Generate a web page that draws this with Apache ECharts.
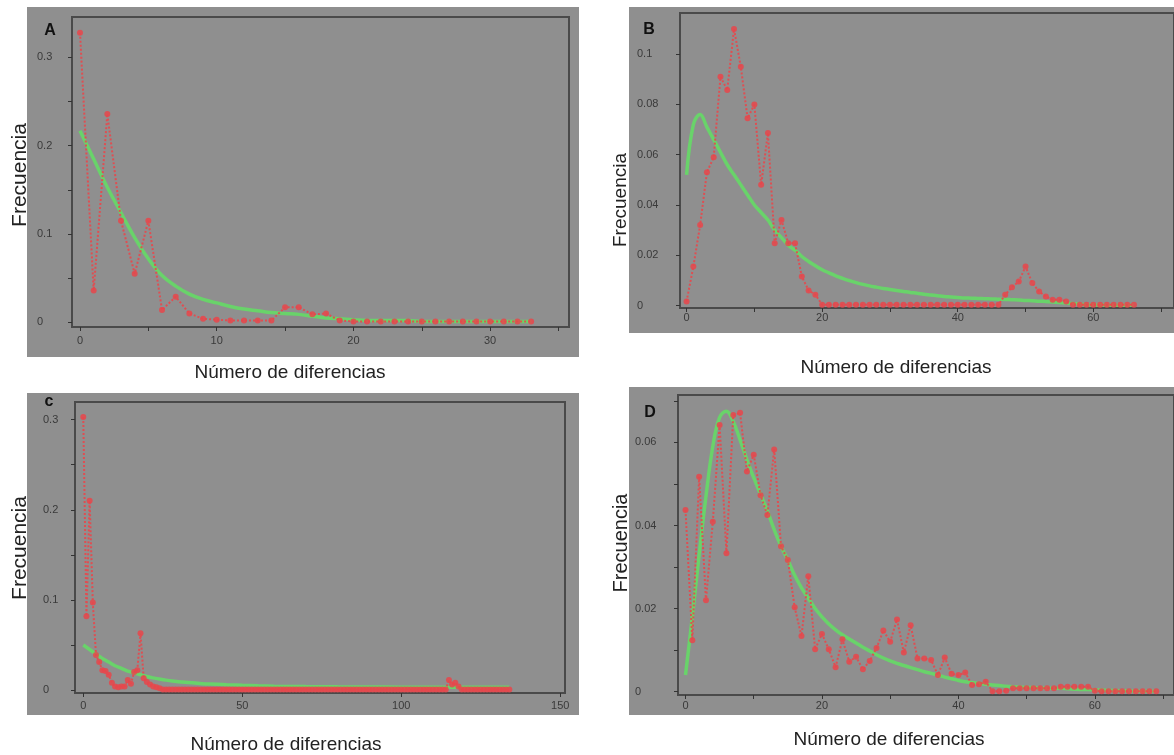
<!DOCTYPE html>
<html><head><meta charset="utf-8">
<script src="https://cdn.jsdelivr.net/npm/echarts@6/dist/echarts.min.js"></script>
<style>html,body{margin:0;padding:0;background:#fff}#c{width:1174px;height:755px}</style>
</head><body><div id="c"></div><script>
// ---------- Panel A ----------
const aX = [0,1,2,3,4,5,6,7,8,9,10,11,12,13,14,15,16,17,18,19,20,21,22,23,24,25,26,27,28,29,30,31,32,33];
const aObserved = [0.328,0.036,0.236,0.115,0.055,0.115,0.014,0.029,0.010,0.004,0.003,0.002,0.002,0.002,0.002,0.017,0.017,0.009,0.010,0.002,
  0.001,0.001,0.001,0.001,0.001,0.001,0.001,0.001,0.001,0.001,0.001,0.001,0.001,0.001];
const aExpected = [0.217,0.185,0.153,0.124,0.096,0.072,0.053,0.041,0.032,0.026,0.022,0.018,0.015,0.013,0.011,0.010,0.009,0.007,0.005,0.004,
  0.003,0.002,0.002,0.002,0.002,0.001,0.001,0.001,0.001,0.001,0.001,0.001,0.001,0.001];
const aXTicks = [0,5,10,15,20,25,30,35];
const aXLabels = [0,10,20,30];
const aYTicks = [0,0.05,0.1,0.15,0.2,0.25,0.3];
const aYLabels = [0,0.1,0.2,0.3];

// ---------- Panel B ----------
const bX = [0,1,2,3,4,5,6,7,8,9,10,11,12,13,14,15,16,17,18,19,20,21,22,23,24,25,26,27,28,29,30,31,32,33,34,35,36,37,38,39,40,41,42,43,44,45,46,47,48,49,50,51,52,53,54,55,56,57,58,59,60,61,62,63,64,65,66];
const bObserved = [0.0016,0.0155,0.032,0.053,0.059,0.091,0.0858,0.110,0.095,0.0745,0.080,0.048,0.0686,0.0248,0.034,0.0248,0.0248,0.0115,0.006,0.0043,
  0.0003,0.0003,0.0003,0.0003,0.0003,0.0003,0.0003,0.0003,0.0003,0.0003,0.0003,0.0003,0.0003,0.0003,0.0003,0.0003,0.0003,0.0003,0.0003,0.0003,0.0003,0.0003,0.0003,0.0003,0.0003,0.0003,0.0003,
  0.0043,0.0073,0.0095,0.0155,0.0089,0.0056,0.0036,0.0023,0.0023,0.0016,
  0.0003,0.0003,0.0003,0.0003,0.0003,0.0003,0.0003,0.0003,0.0003,0.0003];
const bExpected = [0.052,0.072,0.076,0.071,0.066,0.061,0.056,0.052,0.048,0.044,0.040,0.037,0.034,0.030,0.027,0.024,0.022,0.0195,0.0175,0.0158,
  0.0142,0.013,0.0118,0.0108,0.0099,0.0091,0.0084,0.0078,0.0073,0.0068,0.0064,0.006,0.0056,0.0052,0.0049,0.0045,0.0042,0.0039,0.0036,0.0034,
  0.0032,0.0030,0.0029,0.0028,0.0027,0.0026,0.0025,0.0024,0.0023,0.0022,0.0020,0.0019,0.0017,0.0016,0.0014,0.0012,0.0010,0.0008,0.0005,0.0003,
  0.0002,0.0002,0.0001,0.0001,0.0001,0.0001,0.0001];
const bXTicks = [0,10,20,30,40,50,60,70];
const bXLabels = [0,20,40,60];
const bYTicks = [0,0.02,0.04,0.06,0.08,0.1];
const bYLabels = [0,0.02,0.04,0.06,0.08,0.1];

// ---------- Panel C ----------
const cX = [0,1,2,3,4,5,6,7,8,9,10,11,12,13,14,15,16,17,18,19,20,21,22,23,24,25,26,27,28,29,30,31,32,33,34,35,36,37,38,39,40,41,42,43,44,45,46,47,48,49,
  50,51,52,53,54,55,56,57,58,59,60,61,62,63,64,65,66,67,68,69,70,71,72,73,74,75,76,77,78,79,80,81,82,83,84,85,86,87,88,89,90,91,92,93,94,95,96,97,98,99,
  100,101,102,103,104,105,106,107,108,109,110,111,112,113,114,115,116,117,118,119,120,121,122,123,124,125,126,127,128,129,130,131,132,133,134];
const cObserved = [0.303,0.082,0.21,0.097,0.039,0.031,0.022,0.021,0.017,0.008,0.004,0.003,0.004,0.004,0.011,0.007,0.020,0.022,0.063,0.013,0.009,0.006,0.004,0.003,0.002,
  0.0005,0.0005,0.0005,0.0005,0.0005,0.0005,0.0005,0.0005,0.0005,0.0005,0.0005,0.0005,0.0005,0.0005,0.0005,0.0005,0.0005,0.0005,0.0005,0.0005,0.0005,0.0005,0.0005,0.0005,0.0005,
  0.0005,0.0005,0.0005,0.0005,0.0005,0.0005,0.0005,0.0005,0.0005,0.0005,0.0005,0.0005,0.0005,0.0005,0.0005,0.0005,0.0005,0.0005,0.0005,0.0005,0.0005,0.0005,0.0005,0.0005,0.0005,
  0.0005,0.0005,0.0005,0.0005,0.0005,0.0005,0.0005,0.0005,0.0005,0.0005,0.0005,0.0005,0.0005,0.0005,0.0005,0.0005,0.0005,0.0005,0.0005,0.0005,0.0005,0.0005,0.0005,0.0005,0.0005,
  0.0005,0.0005,0.0005,0.0005,0.0005,0.0005,0.0005,0.0005,0.0005,0.0005,0.0005,0.0005,0.0005,0.0005,0.0005,
  0.011,0.006,0.008,0.004,
  0.0005,0.0005,0.0005,0.0005,0.0005,0.0005,0.0005,0.0005,0.0005,0.0005,0.0005,0.0005,0.0005,0.0005,0.0005,0.0005];
const cExpX = [0,2,4,6,8,10,12,14,16,18,20,22,24,26,28,30,33,36,40,45,50,55,60,70,80,90,100,110,120,134];
const cExpected = [0.050,0.045,0.040,0.035,0.031,0.027,0.024,0.021,0.019,0.017,0.015,0.0135,0.0122,0.011,0.010,0.0093,0.0083,0.0075,0.0066,0.0058,0.0052,0.0047,0.0043,0.0038,0.0035,0.0033,0.0032,0.0031,0.0030,0.0030];
const cXTicks = [0,50,100,150];
const cXLabels = [0,50,100,150];
const cYTicks = [0,0.05,0.1,0.15,0.2,0.25,0.3];
const cYLabels = [0,0.1,0.2,0.3];

// ---------- Panel D ----------
const dX = [0,1,2,3,4,5,6,7,8,9,10,11,12,13,14,15,16,17,18,19,20,21,22,23,24,25,26,27,28,29,30,31,32,33,34,35,36,37,38,39,40,41,42,43,44,45,46,47,48,49,50,51,52,53,54,55,56,57,58,59,60,61,62,63,64,65,66,67,68,69];
const dObserved = [0.0437,0.0124,0.0517,0.022,0.0409,0.0642,0.0333,0.0666,0.0671,0.053,0.057,0.0473,0.0425,0.0583,0.035,0.0317,0.0203,0.0134,0.0278,0.0102,
  0.0139,0.0102,0.0059,0.0126,0.0072,0.0084,0.0054,0.0074,0.0105,0.0147,0.012,0.0174,0.0094,0.016,0.008,0.008,0.0076,0.004,0.0082,0.0043,
  0.004,0.0046,0.0016,0.0018,0.0024,0.0001,0.0001,0.0002,0.0008,0.0008,0.0008,0.0008,0.0008,0.0008,0.0008,0.0012,0.0012,0.0012,0.0012,0.0012,
  0.0002,0.0001,0.0001,0.0001,0.0001,0.0001,0.0001,0.0001,0.0001,0.0001];
const dExpected = [0.004,0.018,0.033,0.047,0.059,0.066,0.0675,0.065,0.0606,0.0558,0.0515,0.0475,0.0435,0.039,0.035,0.0317,0.028,0.025,0.0225,0.020,
  0.018,0.0163,0.0149,0.0137,0.0127,0.0117,0.0107,0.0098,0.0089,0.0081,0.0074,0.0068,0.0063,0.0058,0.0053,0.0048,0.0044,0.004,0.0035,0.0031,
  0.0027,0.0024,0.0022,0.002,0.0018,0.0016,0.0015,0.0013,0.0012,0.0011,0.001,0.001,0.0009,0.0009,0.0008,0.0008,0.0007,0.0006,0.0005,0.0005,
  0.0004,0.0004,0.0003,0.0003,0.0002,0.0002,0.0001,0.0001,0.0001,0.0001];
const dXTicks = [0,10,20,30,40,50,60,70];
const dXLabels = [0,20,40,60];
const dYTicks = [0,0.01,0.02,0.03,0.04,0.05,0.06,0.07];
const dYLabels = [0,0.02,0.04,0.06];

const yTitle = 'Frecuencia';
const xTitle = 'Número de diferencias';
const panelLetters = ['A','B','c','D'];

// ---------- build ----------
const zip = (xs, ys) => xs.map((x, i) => [x, ys[i]]);
const GRAY = '#8f8f8f';
const FRAME = '#4a4a4a';
const RED = '#e8474b';
const GREEN = '#69d36a';
const FONT = '"Liberation Sans", Arial, sans-serif';

const panels = [
  {grid:{left:72, top:17, width:497, height:310}, xr:[-0.585,35.77], yr:[-0.0053,0.3458],
   xt:aXTicks, xl:aXLabels, yt:aYTicks, yl:aYLabels, ym:35, xm:8,
   obs:zip(aX,aObserved), exp:zip(aX,aExpected)},
  {grid:{left:680, top:13, width:504, height:295}, xr:[-0.97,71.9], yr:[-0.001,0.1164],
   xt:bXTicks, xl:bXLabels, yt:bYTicks, yl:bYLabels, ym:43, xm:4,
   obs:zip(bX,bObserved), exp:zip(bX,bExpected)},
  {grid:{left:75, top:402, width:490, height:291}, xr:[-2.6,151.5], yr:[-0.0033,0.3196],
   xt:cXTicks, xl:cXLabels, yt:cYTicks, yl:cYLabels, ym:32, xm:7,
   obs:zip(cX,cObserved), exp:zip(cExpX,cExpected)},
  {grid:{left:678, top:395, width:506, height:300}, xr:[-1.1,71.6], yr:[-0.0008,0.0714],
   xt:dXTicks, xl:dXLabels, yt:dYTicks, yl:dYLabels, ym:43, xm:5,
   obs:zip(dX,dObserved), exp:zip(dX,dExpected)}
];

const option = {
  animation:false,
  backgroundColor:'#ffffff',
  grid:[], xAxis:[], yAxis:[], series:[],
  graphic:[]
};
const labelStyle = {color:'#3a3a3a', fontSize:11, fontFamily:FONT};
panels.forEach((p, i) => {
  option.grid.push(Object.assign({show:true, backgroundColor:GRAY, borderColor:FRAME, borderWidth:2, containLabel:false}, p.grid));
  option.xAxis.push({type:'value', gridIndex:i, min:p.xr[0], max:p.xr[1],
    splitLine:{show:false},
    axisLine:{show:true, onZero:false, lineStyle:{color:FRAME, width:2}},
    axisTick:{show:true, customValues:p.xt, length:4, lineStyle:{color:'#333', width:1}},
    axisLabel:Object.assign({customValues:p.xl, margin:p.xm}, labelStyle)});
  option.yAxis.push({type:'value', gridIndex:i, min:p.yr[0], max:p.yr[1],
    splitLine:{show:false},
    axisLine:{show:true, onZero:false, lineStyle:{color:FRAME, width:2}},
    axisTick:{show:true, customValues:p.yt, length:4, lineStyle:{color:'#333', width:1}},
    axisLabel:Object.assign({customValues:p.yl, margin:p.ym, align:'left'}, labelStyle)});
  option.series.push({type:'line', xAxisIndex:i, yAxisIndex:i, data:p.exp, smooth:0.4,
    showSymbol:false, symbol:'none', z:2,
    lineStyle:{color:GREEN, width:3.5}});
  option.series.push({type:'line', xAxisIndex:i, yAxisIndex:i, data:p.obs, z:3,
    symbol:'circle', symbolSize:6, showSymbol:true,
    itemStyle:{color:RED, opacity:0.85},
    lineStyle:{color:RED, width:2, type:[2,2], opacity:0.9}});
});

// outer gray panels
[[27,7,552,350],[629,7,560,326],[27,393,552,322],[629,387,560,328]].forEach(r => {
  option.graphic.push({type:'rect', z:-10, silent:true, shape:{x:r[0], y:r[1], width:r[2], height:r[3]}, style:{fill:GRAY}});
});
// panel letters
[[50,31],[649,30],[49,402],[650,413]].forEach((pt, i) => {
  option.graphic.push({type:'text', z:100, x:pt[0], y:pt[1], style:{text:panelLetters[i], fill:'#111', font:'bold 16px ' + FONT, align:'center', verticalAlign:'middle'}});
});
// y titles
[[20,175,21],[621,200,19],[20,548,21],[621,543,20]].forEach(pt => {
  option.graphic.push({type:'text', z:100, x:pt[0], y:pt[1], rotation:Math.PI/2, style:{text:yTitle, fill:'#222', font:pt[2] + 'px ' + FONT, align:'center', verticalAlign:'middle'}});
});
// x titles
[[290,373],[896,368],[286,745],[889,740]].forEach(pt => {
  option.graphic.push({type:'text', z:100, x:pt[0], y:pt[1], style:{text:xTitle, fill:'#222', font:'19px ' + FONT, align:'center', verticalAlign:'middle'}});
});

const chart = echarts.init(document.getElementById('c'));
chart.setOption(option);
</script></body></html>
